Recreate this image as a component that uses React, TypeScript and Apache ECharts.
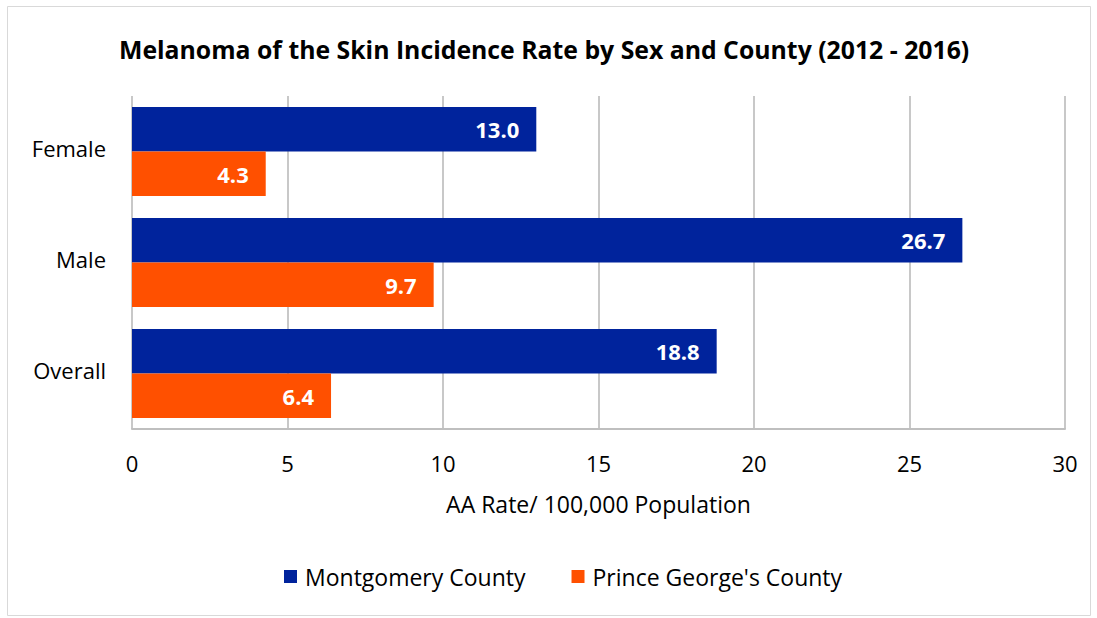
import React, { useEffect, useRef } from "react";
import * as echarts from "echarts";

const categories = ["Female", "Male", "Overall"];
const montgomery = [13.0, 26.7, 18.8];
const princeGeorges = [4.3, 9.7, 6.4];
const seriesNames = ["Montgomery County", "Prince George's County"];
const xTicks = [0, 5, 10, 15, 20, 25, 30];

const FONT = "'Open Sans', sans-serif";

export default function App() {
  const ref = useRef<HTMLDivElement>(null);
  useEffect(() => {
    if (!ref.current) return;
    const chart = echarts.init(ref.current, null, { renderer: "svg" });
    const barLabel = {
      show: true,
      position: "insideRight",
      distance: 17,
      formatter: (p: any) => p.value.toFixed(1),
      color: "#ffffff",
      fontWeight: "bold",
      fontSize: 22,
      fontFamily: FONT,
    };
    chart.setOption({
      animation: false,
      backgroundColor: "#ffffff",
      textStyle: { fontFamily: FONT },
      title: {
        text: "Melanoma of the Skin Incidence Rate by Sex and County (2012 - 2016)",
        left: 114,
        top: 31,
        textStyle: { fontSize: 24.8, fontWeight: "bold", color: "#000000", fontFamily: FONT },
      },
      graphic: [
        {
          type: "rect",
          shape: { x: 7.5, y: 6.5, width: 1083, height: 609 },
          style: { fill: "none", stroke: "#d9d9d9", lineWidth: 1 },
          silent: true,
          z: -1,
        },
      ],
      legend: {
        data: seriesNames,
        left: 279,
        top: 560,
        itemWidth: 13,
        itemHeight: 13,
        itemGap: 46,
        icon: "rect",
        textStyle: { fontSize: 23, color: "#000000", fontFamily: FONT, padding: [0, 0, 0, 3] },
      },
      grid: { left: 132, right: 32, top: 96, bottom: 189, containLabel: false },
      xAxis: {
        type: "value",
        min: xTicks[0],
        max: xTicks[xTicks.length - 1],
        interval: 5,
        name: "AA Rate/ 100,000 Population",
        nameLocation: "middle",
        nameGap: 63,
        nameTextStyle: { fontSize: 23, color: "#000000", fontFamily: FONT },
        axisLine: { show: true, lineStyle: { color: "#bfbfbf", width: 2 } },
        axisTick: { show: false },
        axisLabel: { fontSize: 22, color: "#000000", margin: 23, fontFamily: FONT },
        splitLine: { show: true, lineStyle: { color: "#c8c8c8", width: 2 } },
      },
      yAxis: {
        type: "category",
        data: categories,
        inverse: true,
        axisLine: { show: false },
        axisTick: { show: false },
        axisLabel: {
          formatter: "{a|{value}}",
          margin: 26,
          rich: {
            a: {
              fontSize: 22,
              color: "#000000",
              fontFamily: FONT,
              padding: [0, 0, 8, 0],
            },
          },
        },
      },
      series: [
        {
          name: seriesNames[0],
          type: "bar",
          data: montgomery,
          barGap: "0%",
          barCategoryGap: "20%",
          itemStyle: { color: "#00239c" },
          label: barLabel,
        },
        {
          name: seriesNames[1],
          type: "bar",
          data: princeGeorges,
          barGap: "0%",
          barCategoryGap: "20%",
          itemStyle: { color: "#ff5000" },
          label: barLabel,
        },
      ],
    });
    return () => chart.dispose();
  }, []);
  return (
    <div
      ref={ref}
      style={{ position: "fixed", left: 0, top: 0, width: 1097, height: 618 }}
    />
  );
}
